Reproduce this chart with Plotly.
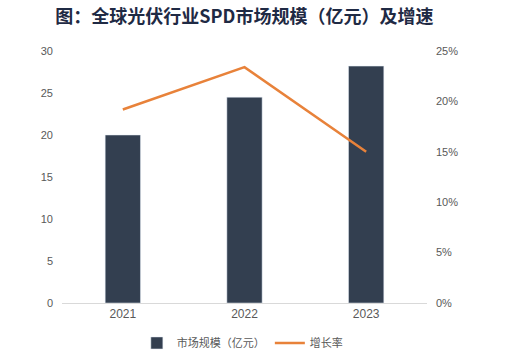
import plotly.graph_objects as go

years = ["2021", "2022", "2023"]
market_size = [20.0, 24.5, 28.2]
growth_rate = [19.2, 23.4, 15.0]

fig = go.Figure()
fig.add_trace(go.Bar(
    x=years, y=market_size, name="市场规模（亿元）",
    marker=dict(color="#333f50"), yaxis="y",
))
fig.add_trace(go.Scatter(
    x=years, y=growth_rate, name="增长率", mode="lines",
    line=dict(color="#e8823a", width=2.5), yaxis="y2",
))

fig.update_layout(
    width=507, height=358,
    margin=dict(l=62, r=80, t=51, b=55, autoexpand=False),
    paper_bgcolor="white", plot_bgcolor="white",
    title=dict(
        text="<b>图：全球光伏行业SPD市场规模（亿元）及增速</b>",
        xref="container", x=0.482, xanchor="center",
        yref="container", y=0.952, yanchor="middle",
        font=dict(family="Noto Sans CJK SC", size=18, color="#1f2a44"),
    ),
    bargap=0.71,
    font=dict(family="Liberation Sans, Arial", size=11, color="#595959"),
    xaxis=dict(
        showgrid=False, showline=True, linecolor="#d9d9d9", linewidth=1,
        ticks="", tickfont=dict(size=12, color="#595959"), automargin=False,
    ),
    yaxis=dict(
        range=[0, 30], dtick=5, showgrid=False, zeroline=False,
        showline=False, ticks="", ticklabelstandoff=8, automargin=False,
        tickfont=dict(size=11, color="#595959"),
    ),
    yaxis2=dict(
        range=[0, 25], dtick=5, overlaying="y", side="right",
        showgrid=False, zeroline=False, showline=False, ticks="",
        ticksuffix="%", ticklabelstandoff=8, automargin=False,
        tickfont=dict(size=11, color="#595959"),
    ),
    legend=dict(
        orientation="h", xref="container", x=0.478, xanchor="center",
        yref="container", y=0.042, yanchor="middle",
        font=dict(family="Noto Sans CJK SC", size=11, color="#595959"),
        itemwidth=30,
    ),
)

fig.write_html(
    "out.html",
    config={"displayModeBar": False},
    post_script="document.body.style.margin='0';",
)
